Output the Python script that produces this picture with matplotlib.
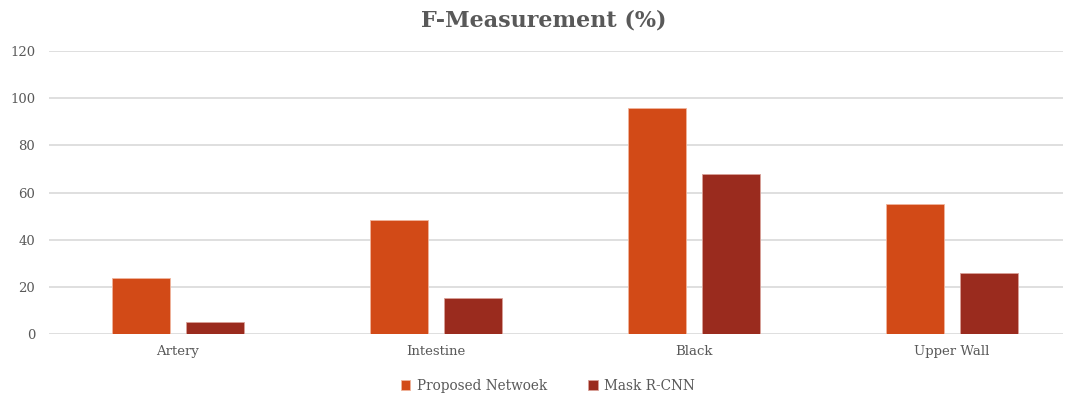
import matplotlib.pyplot as plt
import numpy as np

# F-measure per region for each model
categories = ["Artery", "Intestine", "Black", "Upper Wall"]
proposed = [24, 48.5, 96, 55]
mask_rcnn = [5, 15.5, 68, 26]
series_names = ["Proposed Netwoek", "Mask R-CNN"]

plt.rcParams['font.family'] = ['DejaVu Serif']

fig = plt.figure(figsize=(10.65, 3.95), dpi=100)
ax = fig.add_axes([0.046, 0.154, 0.952, 0.717])

x = np.arange(len(categories))
w = 0.225
off = 0.1434
ax.bar(x - off, proposed, w, color='#D24A17', edgecolor='#F0B49C', linewidth=0.6,
       label=series_names[0], zorder=3)
ax.bar(x + off, mask_rcnn, w, color='#9A2B1E', edgecolor='#D8A098', linewidth=0.6,
       label=series_names[1], zorder=3)

# plot area is cut off on the right, so the last slot is narrower
ax.set_xlim(-0.5, 3.43)
ax.set_ylim(0, 120)
ax.set_yticks(range(0, 121, 20))
ax.grid(axis='y', color='#D9D9D9', linewidth=1.2, zorder=0)
for s in ax.spines.values():
    s.set_visible(False)
ax.tick_params(length=0, colors='#595959', labelsize=9.5)
ax.tick_params(axis='y', pad=10)
ax.tick_params(axis='x', pad=8)
ax.set_xticks(x)
ax.set_xticklabels(categories)

fig.suptitle("F-Measurement (%)", x=0.511, y=0.975, fontsize=16, fontweight='bold',
             color='#595959')

ax.legend(loc='upper center', bbox_to_anchor=(0.492, -0.115), ncol=2, frameon=False,
          fontsize=9.8, labelcolor='#595959', handlelength=0.7, handleheight=0.7,
          columnspacing=3.0, handletextpad=0.5)

fig.savefig("out.png")
